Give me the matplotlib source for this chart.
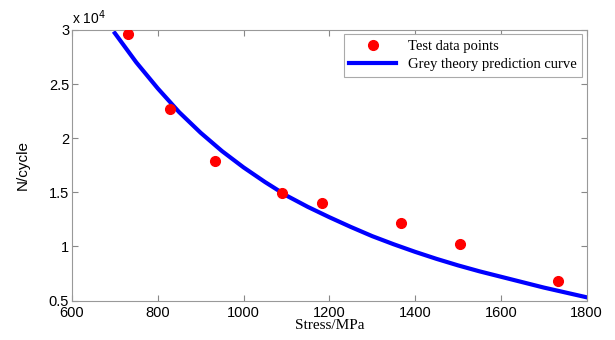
import matplotlib.pyplot as plt
from matplotlib.ticker import FuncFormatter

# test data (stress in MPa, life in cycles)
stress = [730, 828, 933, 1089, 1182, 1366, 1504, 1732]
cycles = [29600, 22700, 17900, 14900, 14000, 12150, 10200, 6800]

# grey theory prediction curve, every 50 MPa
curve_x = [700, 750, 800, 850, 900, 950, 1000, 1050, 1100, 1150, 1200, 1250,
           1300, 1350, 1400, 1450, 1500, 1550, 1600, 1650, 1700, 1750, 1800]
curve_y = [29700, 27000, 24600, 22400, 20500, 18800, 17300, 15950, 14700, 13650,
           12700, 11800, 10950, 10200, 9500, 8850, 8250, 7700, 7200, 6700,
           6200, 5750, 5300]

fig = plt.figure(figsize=(6.15, 3.4), dpi=100)
ax = fig.add_axes([0.117, 0.116, 0.837, 0.796])

ax.plot(stress, cycles, 'o', color='red', markersize=7, label='Test data points', zorder=3)
ax.plot(curve_x, curve_y, '-', color='blue', linewidth=3, label='Grey theory prediction curve',
        solid_joinstyle='round')

ax.set_xlim(600, 1800)
ax.set_ylim(5000, 30000)
ax.set_xticks(range(600, 1801, 200))
ax.set_yticks([5000, 10000, 15000, 20000, 25000, 30000])
ax.yaxis.set_major_formatter(FuncFormatter(lambda v, p: '%g' % (v / 1e4)))
ax.tick_params(direction='in', top=True, right=True, length=4, color='#888888',
               labelsize=10.5, pad=2)
ax.tick_params(axis='x', pad=4)
for lab in ax.get_xticklabels() + ax.get_yticklabels():
    lab.set_family(['Liberation Sans', 'DejaVu Sans'])
for s in ax.spines.values():
    s.set_color('#999999')

ax.text(0.0, 1.01, 'x 10$^4$', transform=ax.transAxes, fontsize=10,
        family='Liberation Sans', ha='left', va='bottom')

ax.set_xlabel('Stress/MPa', family='Liberation Serif', fontsize=11, labelpad=-1)
ax.set_ylabel('N/cycle', family='Liberation Sans', fontsize=11, labelpad=14)

leg = ax.legend(loc='upper right', prop={'family': 'Liberation Serif', 'size': 10.5},
                fancybox=False, edgecolor='#aaaaaa', framealpha=1,
                borderaxespad=0.3, handlelength=3.2, labelspacing=0.3)
leg.get_frame().set_linewidth(0.8)

fig.savefig('out.png', dpi=100)
